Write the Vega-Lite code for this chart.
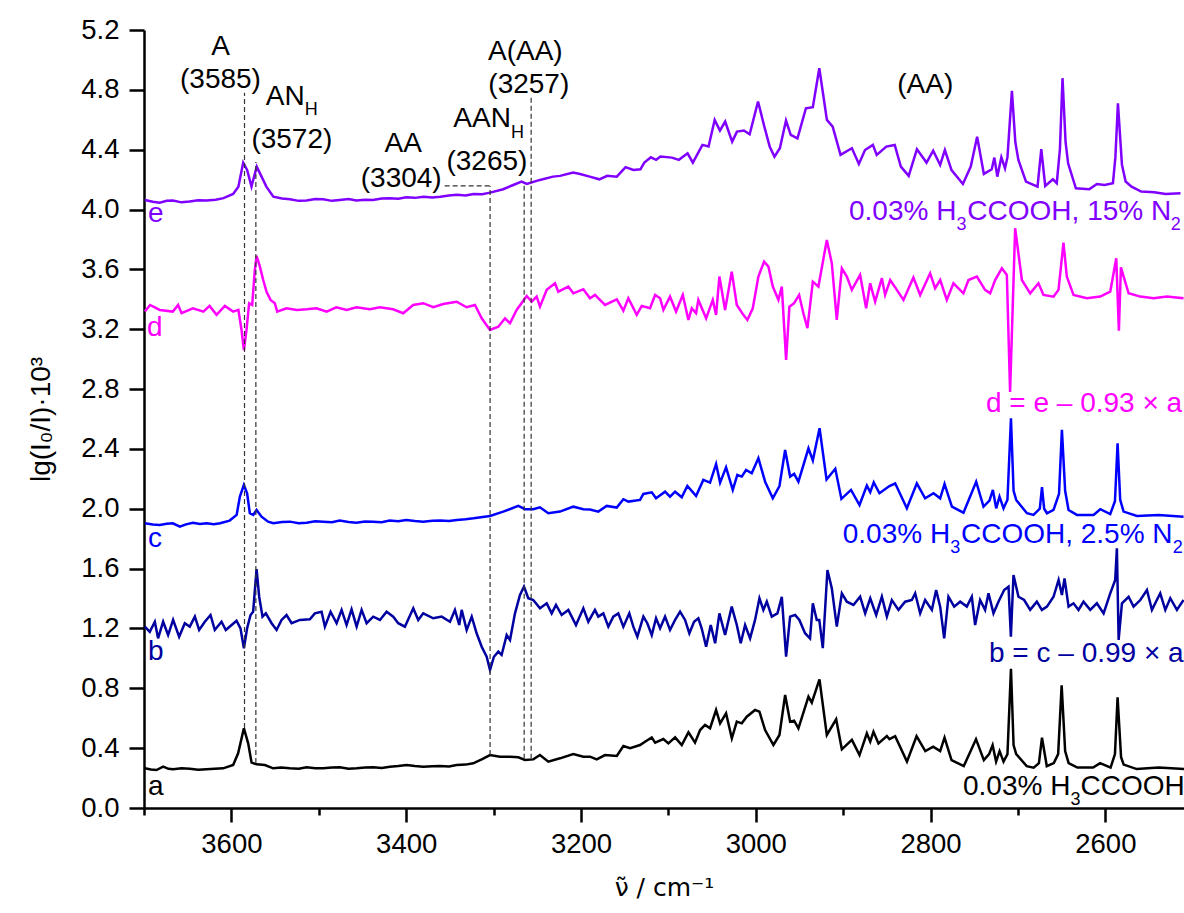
{
"$schema":"https://vega.github.io/schema/vega-lite/v6.json",
"autosize":"none","width":1040,"height":778,
"padding":{"left":144,"top":30,"right":0,"bottom":105},
"background":"white",
"config":{"view":{"stroke":null},"font":"Liberation Sans"},
"datasets":{
"e":[{"x":3699,"y":4.064},{"x":3690,"y":4.052},{"x":3682,"y":4.046},{"x":3674,"y":4.058},{"x":3667,"y":4.060},{"x":3657,"y":4.048},{"x":3648,"y":4.053},{"x":3638,"y":4.062},{"x":3628.5,"y":4.060},{"x":3618,"y":4.066},{"x":3609,"y":4.076},{"x":3598,"y":4.104},{"x":3592,"y":4.153},{"x":3586.5,"y":4.314},{"x":3582,"y":4.265},{"x":3577,"y":4.153},{"x":3571,"y":4.287},{"x":3565.5,"y":4.220},{"x":3560,"y":4.153},{"x":3552,"y":4.086},{"x":3542,"y":4.074},{"x":3533,"y":4.069},{"x":3523,"y":4.058},{"x":3514,"y":4.060},{"x":3504,"y":4.070},{"x":3495,"y":4.069},{"x":3485,"y":4.058},{"x":3476,"y":4.064},{"x":3466,"y":4.070},{"x":3457,"y":4.060},{"x":3447,"y":4.066},{"x":3438,"y":4.064},{"x":3428,"y":4.074},{"x":3419,"y":4.076},{"x":3409,"y":4.072},{"x":3400,"y":4.082},{"x":3390,"y":4.078},{"x":3380,"y":4.086},{"x":3370,"y":4.080},{"x":3361,"y":4.086},{"x":3351,"y":4.094},{"x":3342,"y":4.098},{"x":3332,"y":4.094},{"x":3323,"y":4.104},{"x":3313,"y":4.103},{"x":3304,"y":4.113},{"x":3289,"y":4.136},{"x":3277.5,"y":4.164},{"x":3268,"y":4.187},{"x":3262,"y":4.171},{"x":3247,"y":4.198},{"x":3232,"y":4.220},{"x":3224,"y":4.225},{"x":3209,"y":4.247},{"x":3201,"y":4.238},{"x":3190,"y":4.220},{"x":3179,"y":4.202},{"x":3170,"y":4.225},{"x":3159,"y":4.220},{"x":3149,"y":4.283},{"x":3140,"y":4.264},{"x":3132,"y":4.269},{"x":3127.5,"y":4.314},{"x":3120,"y":4.349},{"x":3114,"y":4.332},{"x":3109,"y":4.354},{"x":3096,"y":4.347},{"x":3088,"y":4.332},{"x":3078,"y":4.376},{"x":3072,"y":4.314},{"x":3061,"y":4.432},{"x":3054,"y":4.421},{"x":3047,"y":4.599},{"x":3041,"y":4.528},{"x":3035,"y":4.588},{"x":3027,"y":4.454},{"x":3021.5,"y":4.521},{"x":3013.6,"y":4.528},{"x":3007,"y":4.503},{"x":2997.4,"y":4.722},{"x":2990,"y":4.55},{"x":2984,"y":4.42},{"x":2978.6,"y":4.354},{"x":2972.4,"y":4.410},{"x":2965.4,"y":4.595},{"x":2960,"y":4.499},{"x":2952.3,"y":4.476},{"x":2942.6,"y":4.677},{"x":2934.7,"y":4.684},{"x":2927.3,"y":4.944},{"x":2918.6,"y":4.599},{"x":2912,"y":4.554},{"x":2903,"y":4.365},{"x":2890,"y":4.410},{"x":2882,"y":4.305},{"x":2875,"y":4.398},{"x":2866,"y":4.432},{"x":2861.6,"y":4.365},{"x":2850.6,"y":4.421},{"x":2841,"y":4.432},{"x":2834,"y":4.287},{"x":2825,"y":4.225},{"x":2815.6,"y":4.403},{"x":2804.6,"y":4.314},{"x":2797,"y":4.394},{"x":2789,"y":4.298},{"x":2783.6,"y":4.398},{"x":2776,"y":4.264},{"x":2763,"y":4.171},{"x":2754,"y":4.287},{"x":2746.7,"y":4.487},{"x":2739,"y":4.238},{"x":2730,"y":4.269},{"x":2727,"y":4.347},{"x":2723.6,"y":4.220},{"x":2719,"y":4.349},{"x":2714.8,"y":4.276},{"x":2712,"y":4.35},{"x":2706.9,"y":4.793},{"x":2703,"y":4.45},{"x":2699.5,"y":4.332},{"x":2690.8,"y":4.187},{"x":2677.6,"y":4.153},{"x":2673.3,"y":4.403},{"x":2668.8,"y":4.158},{"x":2660,"y":4.202},{"x":2655.6,"y":4.176},{"x":2652,"y":4.4},{"x":2649,"y":4.878},{"x":2645.5,"y":4.45},{"x":2642.6,"y":4.309},{"x":2633.7,"y":4.142},{"x":2618.4,"y":4.135},{"x":2609.7,"y":4.171},{"x":2601,"y":4.164},{"x":2591.3,"y":4.176},{"x":2588.5,"y":4.35},{"x":2585.6,"y":4.710},{"x":2581,"y":4.3},{"x":2576.8,"y":4.187},{"x":2570,"y":4.153},{"x":2559,"y":4.120},{"x":2544,"y":4.116},{"x":2531,"y":4.104},{"x":2514,"y":4.109}],
"d":[{"x":3699,"y":3.318},{"x":3693,"y":3.362},{"x":3682,"y":3.329},{"x":3667,"y":3.318},{"x":3661,"y":3.362},{"x":3657,"y":3.307},{"x":3644,"y":3.340},{"x":3632,"y":3.318},{"x":3625,"y":3.356},{"x":3617,"y":3.296},{"x":3607.5,"y":3.356},{"x":3598,"y":3.318},{"x":3592,"y":3.329},{"x":3588.4,"y":3.195},{"x":3585.7,"y":3.061},{"x":3582.7,"y":3.195},{"x":3579.7,"y":3.374},{"x":3576.2,"y":3.362},{"x":3573.2,"y":3.596},{"x":3571.2,"y":3.690},{"x":3567.4,"y":3.618},{"x":3563.6,"y":3.529},{"x":3559.8,"y":3.451},{"x":3555.2,"y":3.396},{"x":3550.3,"y":3.374},{"x":3547.6,"y":3.318},{"x":3537,"y":3.340},{"x":3525,"y":3.329},{"x":3514,"y":3.333},{"x":3502.5,"y":3.340},{"x":3491,"y":3.318},{"x":3480,"y":3.347},{"x":3468,"y":3.329},{"x":3457,"y":3.347},{"x":3441.5,"y":3.333},{"x":3430,"y":3.347},{"x":3415,"y":3.333},{"x":3403.4,"y":3.307},{"x":3392,"y":3.362},{"x":3380.5,"y":3.374},{"x":3369,"y":3.347},{"x":3357.6,"y":3.369},{"x":3342.3,"y":3.384},{"x":3330.8,"y":3.347},{"x":3321.3,"y":3.362},{"x":3313.6,"y":3.273},{"x":3304.1,"y":3.195},{"x":3294.6,"y":3.217},{"x":3286.9,"y":3.273},{"x":3281.2,"y":3.240},{"x":3273.6,"y":3.329},{"x":3262.1,"y":3.422},{"x":3256.4,"y":3.384},{"x":3250.7,"y":3.418},{"x":3246.9,"y":3.351},{"x":3239.2,"y":3.463},{"x":3229.7,"y":3.507},{"x":3226,"y":3.451},{"x":3214.5,"y":3.485},{"x":3208.8,"y":3.440},{"x":3197.3,"y":3.467},{"x":3189.7,"y":3.407},{"x":3184,"y":3.429},{"x":3172.5,"y":3.362},{"x":3159,"y":3.400},{"x":3151.5,"y":3.324},{"x":3145.8,"y":3.407},{"x":3136.2,"y":3.296},{"x":3130.5,"y":3.356},{"x":3121,"y":3.340},{"x":3115.2,"y":3.429},{"x":3109.5,"y":3.407},{"x":3105.7,"y":3.329},{"x":3098.1,"y":3.418},{"x":3091.2,"y":3.318},{"x":3083.5,"y":3.429},{"x":3077.1,"y":3.262},{"x":3073.2,"y":3.340},{"x":3068.3,"y":3.307},{"x":3065.7,"y":3.396},{"x":3056.8,"y":3.273},{"x":3049.2,"y":3.396},{"x":3045.4,"y":3.296},{"x":3041.6,"y":3.552},{"x":3035.1,"y":3.329},{"x":3027.5,"y":3.585},{"x":3021.7,"y":3.362},{"x":3014.2,"y":3.296},{"x":3009.6,"y":3.262},{"x":3003.4,"y":3.340},{"x":2997,"y":3.552},{"x":2990.5,"y":3.652},{"x":2985.5,"y":3.618},{"x":2980.5,"y":3.485},{"x":2974.1,"y":3.396},{"x":2970.2,"y":3.485},{"x":2965.3,"y":2.995},{"x":2961.5,"y":3.351},{"x":2956.1,"y":3.374},{"x":2950.4,"y":3.429},{"x":2945.5,"y":3.307},{"x":2940.9,"y":3.207},{"x":2934.7,"y":3.518},{"x":2928.3,"y":3.485},{"x":2918.7,"y":3.797},{"x":2913,"y":3.641},{"x":2907.3,"y":3.262},{"x":2901.5,"y":3.607},{"x":2895.8,"y":3.552},{"x":2890.1,"y":3.463},{"x":2880.6,"y":3.563},{"x":2873.7,"y":3.340},{"x":2869.1,"y":3.507},{"x":2863.4,"y":3.384},{"x":2855.7,"y":3.541},{"x":2852,"y":3.429},{"x":2846.2,"y":3.529},{"x":2838.6,"y":3.463},{"x":2831,"y":3.396},{"x":2819.6,"y":3.545},{"x":2811.9,"y":3.429},{"x":2800.5,"y":3.574},{"x":2794.8,"y":3.474},{"x":2789,"y":3.529},{"x":2781.4,"y":3.396},{"x":2773.8,"y":3.507},{"x":2762.4,"y":3.440},{"x":2756.6,"y":3.529},{"x":2747,"y":3.552},{"x":2737.6,"y":3.463},{"x":2731.8,"y":3.440},{"x":2726.1,"y":3.529},{"x":2718.4,"y":3.607},{"x":2712.7,"y":3.563},{"x":2709,"y":2.78},{"x":2703.2,"y":3.875},{"x":2695.5,"y":3.529},{"x":2686,"y":3.440},{"x":2676.5,"y":3.507},{"x":2670.8,"y":3.429},{"x":2659.3,"y":3.418},{"x":2653.6,"y":3.463},{"x":2647.9,"y":3.779},{"x":2644.1,"y":3.552},{"x":2636.4,"y":3.429},{"x":2621.1,"y":3.407},{"x":2605.9,"y":3.418},{"x":2594.4,"y":3.451},{"x":2587.5,"y":3.674},{"x":2584.5,"y":3.19},{"x":2582.2,"y":3.614},{"x":2573.4,"y":3.440},{"x":2560,"y":3.418},{"x":2544.8,"y":3.407},{"x":2529.6,"y":3.418},{"x":2510.5,"y":3.407}],
"c":[{"x":3699,"y":1.903},{"x":3690,"y":1.895},{"x":3682,"y":1.892},{"x":3674,"y":1.900},{"x":3667,"y":1.903},{"x":3659,"y":1.880},{"x":3652,"y":1.896},{"x":3644,"y":1.907},{"x":3636,"y":1.898},{"x":3628.5,"y":1.903},{"x":3620,"y":1.897},{"x":3613,"y":1.903},{"x":3602,"y":1.921},{"x":3594,"y":1.959},{"x":3590.3,"y":2.081},{"x":3585.7,"y":2.159},{"x":3582,"y":2.104},{"x":3578.9,"y":1.970},{"x":3575.1,"y":1.959},{"x":3571.2,"y":1.992},{"x":3565.5,"y":1.947},{"x":3558,"y":1.914},{"x":3552,"y":1.903},{"x":3542,"y":1.912},{"x":3533,"y":1.914},{"x":3523,"y":1.904},{"x":3514,"y":1.907},{"x":3504,"y":1.916},{"x":3495,"y":1.914},{"x":3485,"y":1.910},{"x":3476,"y":1.921},{"x":3466,"y":1.912},{"x":3457,"y":1.907},{"x":3447,"y":1.915},{"x":3438,"y":1.914},{"x":3428,"y":1.910},{"x":3419,"y":1.921},{"x":3409,"y":1.916},{"x":3400,"y":1.925},{"x":3390,"y":1.918},{"x":3380.5,"y":1.914},{"x":3370,"y":1.920},{"x":3361,"y":1.921},{"x":3351,"y":1.918},{"x":3342,"y":1.925},{"x":3332,"y":1.930},{"x":3323,"y":1.936},{"x":3304,"y":1.952},{"x":3289,"y":1.981},{"x":3271.7,"y":2.019},{"x":3264,"y":1.997},{"x":3254.6,"y":1.997},{"x":3247,"y":2.010},{"x":3237.4,"y":1.970},{"x":3224,"y":1.981},{"x":3208.8,"y":2.014},{"x":3197.3,"y":1.997},{"x":3189.7,"y":1.995},{"x":3180.2,"y":1.981},{"x":3170.6,"y":2.019},{"x":3159.1,"y":2.008},{"x":3151.5,"y":2.064},{"x":3145.8,"y":2.048},{"x":3132.4,"y":2.059},{"x":3128.6,"y":2.099},{"x":3119,"y":2.110},{"x":3114.1,"y":2.070},{"x":3103.8,"y":2.114},{"x":3098.1,"y":2.081},{"x":3092.3,"y":2.114},{"x":3084.7,"y":2.077},{"x":3078.3,"y":2.152},{"x":3068.3,"y":2.086},{"x":3060,"y":2.193},{"x":3052.3,"y":2.175},{"x":3045.4,"y":2.299},{"x":3040.8,"y":2.175},{"x":3034,"y":2.277},{"x":3026.3,"y":2.126},{"x":3021.1,"y":2.226},{"x":3016,"y":2.215},{"x":3011.1,"y":2.259},{"x":3004.6,"y":2.237},{"x":2997,"y":2.338},{"x":2989.3,"y":2.181},{"x":2980.5,"y":2.070},{"x":2972.9,"y":2.152},{"x":2966.4,"y":2.393},{"x":2960.7,"y":2.215},{"x":2956.1,"y":2.233},{"x":2951.2,"y":2.181},{"x":2939.7,"y":2.404},{"x":2934.7,"y":2.323},{"x":2927,"y":2.538},{"x":2919,"y":2.195},{"x":2909,"y":2.267},{"x":2902,"y":2.066},{"x":2891,"y":2.126},{"x":2881.3,"y":2.025},{"x":2872.9,"y":2.155},{"x":2869,"y":2.111},{"x":2865,"y":2.176},{"x":2858.5,"y":2.104},{"x":2847,"y":2.152},{"x":2840.5,"y":2.170},{"x":2827.1,"y":2.003},{"x":2815.7,"y":2.170},{"x":2806.2,"y":2.070},{"x":2796.6,"y":2.104},{"x":2789,"y":2.070},{"x":2784,"y":2.166},{"x":2775.6,"y":2.014},{"x":2762.3,"y":1.974},{"x":2747.8,"y":2.181},{"x":2739.4,"y":2.014},{"x":2732.6,"y":2.054},{"x":2728.7,"y":2.126},{"x":2724.9,"y":2.003},{"x":2721.1,"y":2.081},{"x":2716.5,"y":2.003},{"x":2712,"y":2.06},{"x":2708,"y":2.605},{"x":2705,"y":2.12},{"x":2702,"y":2.059},{"x":2689.7,"y":1.970},{"x":2682.2,"y":1.959},{"x":2675,"y":2.0},{"x":2672.5,"y":2.144},{"x":2670,"y":2.0},{"x":2666.8,"y":1.970},{"x":2659.3,"y":1.992},{"x":2653,"y":2.10},{"x":2649.7,"y":2.527},{"x":2646,"y":2.12},{"x":2642.1,"y":1.992},{"x":2632.5,"y":1.959},{"x":2613.5,"y":1.959},{"x":2605.8,"y":1.997},{"x":2594.4,"y":1.965},{"x":2589,"y":2.05},{"x":2586,"y":2.438},{"x":2583,"y":2.06},{"x":2579.1,"y":1.981},{"x":2563.8,"y":1.952},{"x":2539.1,"y":1.959},{"x":2510.5,"y":1.947}],
"b":[{"x":3699,"y":1.212},{"x":3693.4,"y":1.178},{"x":3687.6,"y":1.245},{"x":3683.9,"y":1.134},{"x":3678.1,"y":1.245},{"x":3672.4,"y":1.156},{"x":3666.7,"y":1.257},{"x":3659.8,"y":1.145},{"x":3653.3,"y":1.235},{"x":3647.6,"y":1.212},{"x":3641.8,"y":1.279},{"x":3636.9,"y":1.190},{"x":3630.4,"y":1.245},{"x":3623.9,"y":1.290},{"x":3619,"y":1.190},{"x":3611.3,"y":1.245},{"x":3606.4,"y":1.190},{"x":3594.1,"y":1.252},{"x":3589.6,"y":1.201},{"x":3585.7,"y":1.068},{"x":3582,"y":1.201},{"x":3578.1,"y":1.290},{"x":3575.1,"y":1.312},{"x":3571.2,"y":1.596},{"x":3568.2,"y":1.412},{"x":3564.4,"y":1.279},{"x":3560.6,"y":1.301},{"x":3554,"y":1.235},{"x":3548.3,"y":1.190},{"x":3542.6,"y":1.257},{"x":3536.9,"y":1.290},{"x":3531.1,"y":1.235},{"x":3521.6,"y":1.257},{"x":3510.2,"y":1.261},{"x":3504.5,"y":1.301},{"x":3496.8,"y":1.312},{"x":3493,"y":1.212},{"x":3486.5,"y":1.312},{"x":3479.6,"y":1.235},{"x":3473.9,"y":1.324},{"x":3468.2,"y":1.223},{"x":3462.5,"y":1.328},{"x":3456.7,"y":1.212},{"x":3451,"y":1.324},{"x":3445.3,"y":1.235},{"x":3437.7,"y":1.279},{"x":3430,"y":1.257},{"x":3422.4,"y":1.312},{"x":3414.8,"y":1.279},{"x":3409.1,"y":1.235},{"x":3401.5,"y":1.212},{"x":3391.9,"y":1.335},{"x":3386.2,"y":1.257},{"x":3380.5,"y":1.301},{"x":3369,"y":1.268},{"x":3359.4,"y":1.279},{"x":3349.9,"y":1.245},{"x":3344.2,"y":1.324},{"x":3339.3,"y":1.223},{"x":3336.5,"y":1.324},{"x":3330.8,"y":1.190},{"x":3325,"y":1.279},{"x":3319.4,"y":1.168},{"x":3313.6,"y":1.078},{"x":3307.9,"y":1.011},{"x":3304.1,"y":0.922},{"x":3299.6,"y":1.011},{"x":3294.6,"y":1.045},{"x":3290.8,"y":1.023},{"x":3285,"y":1.156},{"x":3281.2,"y":1.123},{"x":3275.5,"y":1.301},{"x":3269.8,"y":1.424},{"x":3265.2,"y":1.479},{"x":3260.3,"y":1.402},{"x":3254.6,"y":1.390},{"x":3246.9,"y":1.335},{"x":3239.2,"y":1.368},{"x":3233.5,"y":1.301},{"x":3228.6,"y":1.357},{"x":3222.1,"y":1.290},{"x":3214.5,"y":1.324},{"x":3205.7,"y":1.223},{"x":3197.3,"y":1.335},{"x":3191.6,"y":1.245},{"x":3184,"y":1.324},{"x":3180.2,"y":1.279},{"x":3174.4,"y":1.301},{"x":3168.7,"y":1.212},{"x":3163,"y":1.279},{"x":3157.3,"y":1.301},{"x":3151.5,"y":1.212},{"x":3144.7,"y":1.301},{"x":3140.1,"y":1.212},{"x":3135.5,"y":1.145},{"x":3128.6,"y":1.279},{"x":3124.1,"y":1.235},{"x":3119,"y":1.156},{"x":3114.1,"y":1.268},{"x":3109.5,"y":1.201},{"x":3103.8,"y":1.279},{"x":3098.1,"y":1.190},{"x":3092.3,"y":1.257},{"x":3086.6,"y":1.312},{"x":3080.9,"y":1.257},{"x":3076,"y":1.168},{"x":3070.6,"y":1.245},{"x":3065.7,"y":1.268},{"x":3061.9,"y":1.201},{"x":3056.8,"y":1.078},{"x":3051.5,"y":1.223},{"x":3046.5,"y":1.101},{"x":3041.6,"y":1.301},{"x":3035.1,"y":1.156},{"x":3027.5,"y":1.346},{"x":3021.7,"y":1.223},{"x":3017.2,"y":1.101},{"x":3012.2,"y":1.223},{"x":3006.5,"y":1.134},{"x":3000.8,"y":1.257},{"x":2995.8,"y":1.402},{"x":2991.3,"y":1.324},{"x":2987.4,"y":1.379},{"x":2981.7,"y":1.279},{"x":2975.2,"y":1.301},{"x":2970.2,"y":1.412},{"x":2965.3,"y":1.011},{"x":2960.7,"y":1.279},{"x":2955,"y":1.290},{"x":2950.1,"y":1.257},{"x":2943.6,"y":1.168},{"x":2937.9,"y":1.134},{"x":2934.7,"y":1.368},{"x":2930.2,"y":1.257},{"x":2927.3,"y":1.257},{"x":2923.3,"y":1.068},{"x":2918,"y":1.591},{"x":2913,"y":1.469},{"x":2907.3,"y":1.212},{"x":2901.5,"y":1.435},{"x":2895.8,"y":1.379},{"x":2888.2,"y":1.357},{"x":2880.6,"y":1.412},{"x":2874.8,"y":1.301},{"x":2869,"y":1.402},{"x":2862.2,"y":1.290},{"x":2855.7,"y":1.412},{"x":2850,"y":1.279},{"x":2844.3,"y":1.390},{"x":2836.7,"y":1.324},{"x":2829.1,"y":1.379},{"x":2821.4,"y":1.390},{"x":2817.6,"y":1.435},{"x":2811.9,"y":1.301},{"x":2806.2,"y":1.390},{"x":2798.5,"y":1.324},{"x":2793.6,"y":1.457},{"x":2789,"y":1.346},{"x":2784.4,"y":1.134},{"x":2779.5,"y":1.412},{"x":2773,"y":1.346},{"x":2766.1,"y":1.379},{"x":2758.5,"y":1.346},{"x":2752.8,"y":1.412},{"x":2749,"y":1.223},{"x":2743.3,"y":1.390},{"x":2737.6,"y":1.324},{"x":2733.7,"y":1.435},{"x":2728,"y":1.301},{"x":2722.3,"y":1.379},{"x":2715.8,"y":1.457},{"x":2710.8,"y":1.479},{"x":2708.1,"y":1.145},{"x":2705.1,"y":1.557},{"x":2699.4,"y":1.412},{"x":2692.9,"y":1.390},{"x":2686,"y":1.324},{"x":2678.4,"y":1.379},{"x":2672.6,"y":1.324},{"x":2666.8,"y":1.346},{"x":2659.3,"y":1.412},{"x":2653.5,"y":1.524},{"x":2649.7,"y":1.424},{"x":2646.7,"y":1.535},{"x":2642.1,"y":1.346},{"x":2636.4,"y":1.368},{"x":2630.7,"y":1.324},{"x":2625,"y":1.379},{"x":2617.3,"y":1.324},{"x":2609.7,"y":1.368},{"x":2602,"y":1.301},{"x":2594.4,"y":1.435},{"x":2588.7,"y":1.524},{"x":2586.8,"y":1.736},{"x":2584.8,"y":1.123},{"x":2581,"y":1.368},{"x":2573.4,"y":1.412},{"x":2567.7,"y":1.346},{"x":2560,"y":1.390},{"x":2552.4,"y":1.457},{"x":2546.7,"y":1.324},{"x":2537.2,"y":1.435},{"x":2531.4,"y":1.324},{"x":2525.7,"y":1.402},{"x":2518.1,"y":1.324},{"x":2510.5,"y":1.390}],
"a":[{"x":3699,"y":0.265},{"x":3692,"y":0.258},{"x":3685.7,"y":0.254},{"x":3678.1,"y":0.276},{"x":3672,"y":0.262},{"x":3666.7,"y":0.259},{"x":3657,"y":0.266},{"x":3647.6,"y":0.263},{"x":3638,"y":0.256},{"x":3628.5,"y":0.259},{"x":3619,"y":0.262},{"x":3609.4,"y":0.265},{"x":3598,"y":0.287},{"x":3592.3,"y":0.366},{"x":3585.7,"y":0.533},{"x":3580.8,"y":0.432},{"x":3576.9,"y":0.303},{"x":3571.2,"y":0.292},{"x":3561.7,"y":0.287},{"x":3552.2,"y":0.265},{"x":3543,"y":0.270},{"x":3533.1,"y":0.265},{"x":3523,"y":0.262},{"x":3514,"y":0.272},{"x":3504,"y":0.266},{"x":3495,"y":0.265},{"x":3485,"y":0.270},{"x":3475.9,"y":0.272},{"x":3466,"y":0.262},{"x":3456.7,"y":0.265},{"x":3447,"y":0.270},{"x":3437.7,"y":0.272},{"x":3428,"y":0.268},{"x":3418.6,"y":0.276},{"x":3409,"y":0.280},{"x":3399.5,"y":0.287},{"x":3390,"y":0.280},{"x":3380.5,"y":0.276},{"x":3370,"y":0.279},{"x":3361.4,"y":0.281},{"x":3351,"y":0.278},{"x":3342.3,"y":0.287},{"x":3332,"y":0.290},{"x":3323.3,"y":0.299},{"x":3313.6,"y":0.325},{"x":3304.1,"y":0.354},{"x":3292.7,"y":0.343},{"x":3281.2,"y":0.343},{"x":3271.7,"y":0.339},{"x":3264.1,"y":0.321},{"x":3254.6,"y":0.325},{"x":3246.9,"y":0.354},{"x":3237.4,"y":0.310},{"x":3224,"y":0.332},{"x":3208.8,"y":0.361},{"x":3197.3,"y":0.343},{"x":3189.6,"y":0.343},{"x":3182,"y":0.325},{"x":3172.5,"y":0.354},{"x":3159,"y":0.348},{"x":3151.5,"y":0.414},{"x":3143.8,"y":0.399},{"x":3132.4,"y":0.421},{"x":3126.7,"y":0.443},{"x":3119,"y":0.472},{"x":3115.2,"y":0.437},{"x":3105.7,"y":0.461},{"x":3100,"y":0.432},{"x":3092.3,"y":0.472},{"x":3084.7,"y":0.421},{"x":3077,"y":0.506},{"x":3069.5,"y":0.437},{"x":3063.7,"y":0.521},{"x":3058,"y":0.555},{"x":3052.3,"y":0.533},{"x":3045.4,"y":0.655},{"x":3040.8,"y":0.566},{"x":3034,"y":0.633},{"x":3027.4,"y":0.466},{"x":3021.7,"y":0.577},{"x":3016,"y":0.566},{"x":3010.3,"y":0.610},{"x":3000.8,"y":0.655},{"x":2995.8,"y":0.644},{"x":2989.3,"y":0.521},{"x":2979.8,"y":0.421},{"x":2972.9,"y":0.488},{"x":2966.4,"y":0.755},{"x":2960.7,"y":0.577},{"x":2956.1,"y":0.584},{"x":2951.2,"y":0.533},{"x":2939.7,"y":0.744},{"x":2935.9,"y":0.704},{"x":2927.1,"y":0.860},{"x":2918.7,"y":0.488},{"x":2908,"y":0.593},{"x":2901.5,"y":0.392},{"x":2890,"y":0.455},{"x":2881.3,"y":0.354},{"x":2872.9,"y":0.499},{"x":2869,"y":0.443},{"x":2865.3,"y":0.510},{"x":2859.6,"y":0.432},{"x":2850,"y":0.481},{"x":2847,"y":0.46},{"x":2840.5,"y":0.48},{"x":2827,"y":0.31},{"x":2816,"y":0.48},{"x":2806,"y":0.38},{"x":2797,"y":0.41},{"x":2789,"y":0.38},{"x":2784,"y":0.47},{"x":2776,"y":0.32},{"x":2762,"y":0.28},{"x":2748,"y":0.46},{"x":2739,"y":0.32},{"x":2733,"y":0.36},{"x":2729,"y":0.42},{"x":2725,"y":0.31},{"x":2721,"y":0.38},{"x":2716.5,"y":0.31},{"x":2712,"y":0.36},{"x":2708,"y":0.93},{"x":2705,"y":0.42},{"x":2702,"y":0.36},{"x":2690,"y":0.28},{"x":2682,"y":0.27},{"x":2676,"y":0.30},{"x":2672.5,"y":0.47},{"x":2667,"y":0.28},{"x":2659,"y":0.30},{"x":2654,"y":0.36},{"x":2650,"y":0.82},{"x":2646,"y":0.38},{"x":2642,"y":0.30},{"x":2632,"y":0.27},{"x":2614,"y":0.27},{"x":2606,"y":0.30},{"x":2594,"y":0.27},{"x":2589,"y":0.36},{"x":2586,"y":0.74},{"x":2582,"y":0.34},{"x":2579,"y":0.29},{"x":2564,"y":0.26},{"x":2539,"y":0.27},{"x":2510,"y":0.26}],
"guides":[{"x":3585,"y":0.535,"y2":4.78},{"x":3572,"y":0.30,"y2":4.318},{"x":3304,"y":0.354,"y2":4.158},{"x":3265,"y":0.33,"y2":4.18},{"x":3257,"y":0.33,"y2":4.76}],
"leader":[{"x":3356,"x2":3304,"y":4.158}],
"annC":[{"x":3612.5,"y":5.033,"t":"A"},{"x":3612.5,"y":4.811,"t":"(3585)"},{"x":3530.8,"y":4.410,"t":"(3572)"},{"x":3403.4,"y":4.387,"t":"AA"},{"x":3405.7,"y":4.153,"t":"(3304)"},{"x":3307.6,"y":4.265,"t":"(3265)"},{"x":3263.7,"y":5.0,"t":"A(AA)"},{"x":3259.7,"y":4.777,"t":"(3257)"},{"x":2806.1,"y":4.777,"t":"(AA)"}],
"annL":[{"x":3560.6,"y":4.699,"t":"AN"},{"x":3346.1,"y":4.554,"t":"AAN"}],
"annS":[{"x":3516.1,"y":4.632,"t":"H"},{"x":3280.2,"y":4.477,"t":"H"}],
"lab":[{"s":"e","x":3695.4,"y":3.917,"t":"e"},{"s":"d","x":3696.5,"y":3.155,"t":"d"},{"s":"c","x":3695.4,"y":1.747,"t":"c"},{"s":"b","x":3695.4,"y":0.989,"t":"b"},{"s":"a","x":3695.4,"y":0.087,"t":"a"},{"s":"e","x":2893.3,"y":3.930,"t":"0.03% H"},{"s":"e","x":2757.9,"y":3.930,"t":"CCOOH, 15% N"},{"s":"d","x":2736.6,"y":2.645,"t":"d = e \u2013 0.93 \u00d7 a"},{"s":"c","x":2900.5,"y":1.769,"t":"0.03% H"},{"s":"c","x":2765.2,"y":1.769,"t":"CCOOH, 2.5% N"},{"s":"b","x":2733.1,"y":0.978,"t":"b = c \u2013 0.99 \u00d7 a"},{"s":"a","x":2762.9,"y":0.087,"t":"0.03% H"},{"s":"a","x":2628.5,"y":0.087,"t":"CCOOH"}],
"labS":[{"s":"e","x":2770.4,"y":3.864,"t":"3"},{"s":"e","x":2525.2,"y":3.864,"t":"2"},{"s":"c","x":2777.6,"y":1.705,"t":"3"},{"s":"c","x":2523,"y":1.705,"t":"2"},{"s":"a","x":2640,"y":0.020,"t":"3"}]
},
"layer":[
{"data":{"name":"a"},"mark":{"type":"line","strokeWidth":2.5,"color":"#000000"},
 "encoding":{
  "x":{"field":"x","type":"quantitative","scale":{"domain":[2510,3700],"reverse":true,"nice":false,"zero":false},
   "axis":{"title":"\u03bd\u0303 / cm\u207b\u00b9","titleFont":"DejaVu Sans","values":[3700,3600,3500,3400,3300,3200,3100,3000,2900,2800,2700,2600],"format":"d","labelExpr":"datum.value % 200 === 0 ? datum.label : ''","tickSize":{"condition":{"test":"datum.value % 200 === 0","value":14},"value":7},"tickWidth":2.5,"tickColor":"black","domainColor":"black","domainWidth":2.5,"labelFontSize":27.5,"labelColor":"black","labelPadding":8,"labelOverlap":false,"labelFlush":false,"grid":false,"titleFontSize":25,"titleFontWeight":"normal","titleColor":"black","titlePadding":18}},
  "y":{"field":"y","type":"quantitative","scale":{"domain":[0,5.2],"nice":false,"zero":false},
   "axis":{"title":"lg(I\u2080/I)\u00b710\u00b3","values":[0,0.2,0.4,0.6,0.8,1,1.2,1.4,1.6,1.8,2,2.2,2.4,2.6,2.8,3,3.2,3.4,3.6,3.8,4,4.2,4.4,4.6,4.8,5,5.2],"labelExpr":"round(datum.value*10) % 4 === 0 ? format(datum.value, '.1f') : ''","tickSize":{"condition":{"test":"round(datum.value*10) % 4 === 0","value":15},"value":8},"tickWidth":2.5,"tickColor":"black","domainColor":"black","domainWidth":2.5,"labelFontSize":27.5,"labelColor":"black","labelPadding":10,"labelOverlap":false,"labelFlush":false,"grid":false,"titleFontSize":28,"titleFontWeight":"normal","titleColor":"black","titlePadding":25}}
 }},
{"data":{"name":"b"},"mark":{"type":"line","strokeWidth":2.5,"color":"#0000A0"},"encoding":{"x":{"field":"x","type":"quantitative"},"y":{"field":"y","type":"quantitative"}}},
{"data":{"name":"c"},"mark":{"type":"line","strokeWidth":2.5,"color":"#0000FF"},"encoding":{"x":{"field":"x","type":"quantitative"},"y":{"field":"y","type":"quantitative"}}},
{"data":{"name":"d"},"mark":{"type":"line","strokeWidth":2.5,"color":"#FF00FF"},"encoding":{"x":{"field":"x","type":"quantitative"},"y":{"field":"y","type":"quantitative"}}},
{"data":{"name":"e"},"mark":{"type":"line","strokeWidth":2.5,"color":"#8000FF"},"encoding":{"x":{"field":"x","type":"quantitative"},"y":{"field":"y","type":"quantitative"}}},
{"data":{"name":"guides"},"mark":{"type":"rule","color":"#333333","strokeWidth":1.2,"strokeDash":[5,3]},"encoding":{"x":{"field":"x","type":"quantitative"},"y":{"field":"y","type":"quantitative"},"y2":{"field":"y2"}}},
{"data":{"name":"leader"},"mark":{"type":"rule","color":"#333333","strokeWidth":1.2,"strokeDash":[5,3]},"encoding":{"x":{"field":"x","type":"quantitative"},"x2":{"field":"x2"},"y":{"field":"y","type":"quantitative"}}},
{"mark":{"type":"rule","color":"black","strokeWidth":2},"encoding":{"y":{"datum":5.2,"type":"quantitative"}}},
{"data":{"name":"annC"},"mark":{"type":"text","fontSize":28,"align":"center","baseline":"alphabetic","color":"black","font":"Liberation Sans"},"encoding":{"x":{"field":"x","type":"quantitative"},"y":{"field":"y","type":"quantitative"},"text":{"field":"t"}}},
{"data":{"name":"annL"},"mark":{"type":"text","fontSize":28,"align":"left","baseline":"alphabetic","color":"black","font":"Liberation Sans"},"encoding":{"x":{"field":"x","type":"quantitative"},"y":{"field":"y","type":"quantitative"},"text":{"field":"t"}}},
{"data":{"name":"annS"},"mark":{"type":"text","fontSize":18,"align":"left","baseline":"alphabetic","color":"black","font":"Liberation Sans"},"encoding":{"x":{"field":"x","type":"quantitative"},"y":{"field":"y","type":"quantitative"},"text":{"field":"t"}}},
{"data":{"name":"lab"},"mark":{"type":"text","fontSize":28,"align":"left","baseline":"alphabetic","font":"Liberation Sans"},"encoding":{"x":{"field":"x","type":"quantitative"},"y":{"field":"y","type":"quantitative"},"text":{"field":"t"},"color":{"field":"s","type":"nominal","scale":{"domain":["a","b","c","d","e"],"range":["#000000","#0000A0","#0000FF","#FF00FF","#8000FF"]},"legend":null}}},
{"data":{"name":"labS"},"mark":{"type":"text","fontSize":18,"align":"left","baseline":"alphabetic","font":"Liberation Sans"},"encoding":{"x":{"field":"x","type":"quantitative"},"y":{"field":"y","type":"quantitative"},"text":{"field":"t"},"color":{"field":"s","type":"nominal","legend":null}}}
]
}
